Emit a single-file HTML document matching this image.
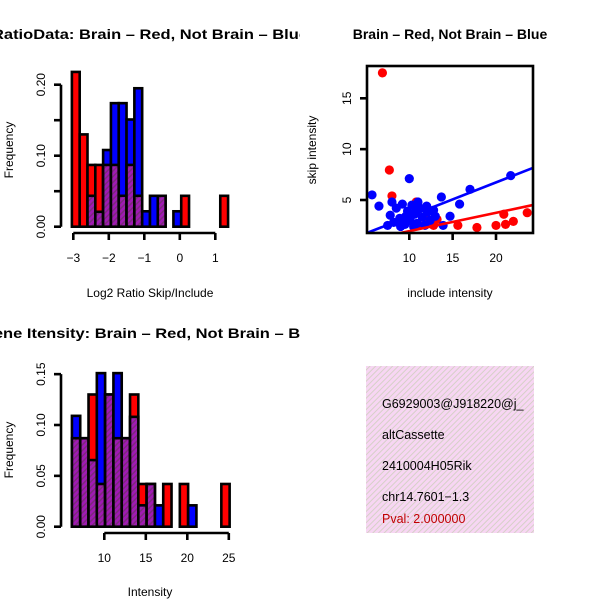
<!DOCTYPE html>
<html><head><meta charset="utf-8"><style>
html,body{margin:0;padding:0;background:#fff;}
svg{display:block;font-family:"Liberation Sans",Arial,sans-serif;}
</style></head><body>
<svg id="c" width="600" height="600" viewBox="0 0 600 600">
<defs>
<pattern id="hatch" width="4" height="4" patternUnits="userSpaceOnUse" patternTransform="rotate(45)">
<rect width="4" height="4" fill="#a01ab4"/><rect width="1.5" height="4" fill="#7c2a7c"/>
</pattern>
<pattern id="pinkhatch" width="4" height="4" patternUnits="userSpaceOnUse" patternTransform="rotate(45)">
<rect width="4" height="4" fill="#f7d6f3"/><rect width="1" height="4" fill="#d6d0c8"/>
</pattern>
<clipPath id="clipTL"><rect x="0" y="0" width="300" height="300"/></clipPath>
<clipPath id="clipBL"><rect x="0" y="300" width="300" height="300"/></clipPath>
<clipPath id="clipBox"><rect x="366" y="366" width="168" height="167"/></clipPath>
<clipPath id="clipSc"><rect x="367" y="66" width="166" height="167"/></clipPath>
</defs>
<g id="tl" clip-path="url(#clipTL)"></g>
<g id="tr"></g>
<g id="bl" clip-path="url(#clipBL)"></g>
<g id="br">
<rect x="366" y="366" width="168" height="167" fill="url(#pinkhatch)"/>
<g clip-path="url(#clipBox)" font-size="12.5">
<text x="382" y="408">G6929003@J918220@j_</text>
<text x="382" y="439">altCassette</text>
<text x="382" y="470">2410004H05Rik</text>
<text x="382" y="501">chr14.7601−1.3</text>
<text x="382" y="523" fill="#c00000">Pval: 2.000000</text>
</g>
</g>
</svg>
<script>
// ---- Ratio histogram data ----
const ratioBinStart = -3.04, ratioBinWidth = 0.22;
const ratioRed  = [0.218,0.13,0.087,0.087,0.087,0.087,0.0435,0.087,0.0435,0,0,0.0435,0,0,0.0435,0,0,0,0,0.0435];
const ratioBlue = [0,0,0.0435,0.021,0.108,0.174,0.174,0.151,0.195,0.0217,0.0435,0.0435,0,0.0217,0,0,0,0,0,0];
const ratioXTicks = [-3,-2,-1,0,1];
const ratioYTicks = [0,0.05,0.10,0.15,0.20];
const ratioYLabels = ["0.00","","0.10","","0.20"];
// ---- Intensity histogram data ----
const intBinStart = 6.1, intBinWidth = 1;
const intRed  = [0.087,0.087,0.13,0.042,0.13,0.087,0.087,0.13,0.042,0.042,0,0.042,0,0.042,0,0,0,0,0.042];
const intBlue = [0.109,0.087,0.0655,0.151,0.13,0.151,0.087,0.108,0.021,0.042,0.021,0,0,0,0.021,0,0,0,0];
const intXTicks = [10,15,20,25];
const intYTicks = [0,0.05,0.10,0.15];
const intYLabels = ["0.00","0.05","0.10","0.15"];
// ---- Scatter data ----
const redX = [6.9,7.7,8.0,10.8,15.6,17.8,20,20.9,21.1,22,23.6,12.8,13.2,8.9,12.0,11.0,9.5];
const redY = [17.5,7.95,5.4,4.8,2.5,2.3,2.5,3.6,2.6,2.9,3.75,2.5,3.1,2.7,3.0,2.6,3.2];
const blueX = [5.7,6.5,10,13.7,17,15.8,21.7,14.7,13.9,7.8,8.2,8.5,8.9,9.2,9.5,9.8,10.1,10.3,10.6,10.9,11.2,11.5,11.8,12.1,12.4,12.8,9.0,10.5,8.0,11.0,12.0,13.0,9.6,10.8,7.5];
const blueY = [5.5,4.4,7.1,5.3,6.05,4.6,7.4,3.4,2.5,3.5,2.8,4.2,3.2,4.6,2.6,3.9,3.0,4.5,3.6,2.7,4.2,3.3,2.5,3.8,3.0,4.0,2.4,2.4,4.8,4.8,4.4,3.4,3.4,3.9,2.5];
const redFit = [0.14,0.18];   // intercept, slope
const blueFit = [0.05,0.334];
const scXTicks = [10,15,20];
const scYTicks = [5,10,15];

const NS="http://www.w3.org/2000/svg";
function mk(parent,tag,attrs,txt){const e=document.createElementNS(NS,tag);for(const k in attrs)e.setAttribute(k,attrs[k]);if(txt!==undefined)e.textContent=txt;parent.appendChild(e);return e;}

function hist(g,o){
  const sx=v=>o.x0px+(v-o.xv0)*o.kx, sy=v=>o.y0px-v*o.ky;
  o.red.forEach((r,i)=>{
    const b=o.blue[i], l=sx(o.start+i*o.w), rr=sx(o.start+(i+1)*o.w);
    const mx=Math.max(r,b), mn=Math.min(r,b);
    if(mx<=0) return;
    const col = r>b ? "#ff0000" : "#0000ff";
    let e=mk(g,"rect",{x:l,y:sy(mx),width:rr-l,height:sy(0)-sy(mx),fill:col,stroke:"#000","stroke-width":2.6});
    
    
    if(mn>0){
      let p=mk(g,"rect",{x:l,y:sy(mn),width:rr-l,height:sy(0)-sy(mn),fill:"url(#hatch)",stroke:"#000","stroke-width":2.6});
      
      
    }
  });
  // axes
  const ax=mk(g,"g",{stroke:"#000","stroke-width":2.6,fill:"none"});
  
  
  mk(ax,"line",{x1:sx(o.xt[0]),x2:sx(o.xt[o.xt.length-1]),y1:o.axY,y2:o.axY});
  o.xt.forEach(t=>{mk(ax,"line",{x1:sx(t),x2:sx(t),y1:o.axY,y2:o.axY+7});
    let tx=mk(g,"text",{x:sx(t),y:o.axY+29,"text-anchor":"middle","font-size":12},String(t).replace('-','−'));
    
    });
  const ay=mk(g,"g",{stroke:"#000","stroke-width":2.6,fill:"none"});
  
  
  mk(ay,"line",{x1:o.axX,x2:o.axX,y1:sy(o.yt[0]),y2:sy(o.yt[o.yt.length-1])});
  o.yt.forEach((t,i)=>{mk(ay,"line",{x1:o.axX,x2:o.axX-7,y1:sy(t),y2:sy(t)});
    if(o.yl[i]){let tx=mk(g,"text",{x:0,y:0,"text-anchor":"middle","font-size":12,transform:`translate(${o.axX-16},${sy(t)}) rotate(-90)`},o.yl[i]);
    
    }});
}

const tl=document.getElementById('tl');
hist(tl,{red:ratioRed,blue:ratioBlue,start:ratioBinStart,w:ratioBinWidth,xv0:-3,x0px:73.3,kx:35.5,y0px:226.7,ky:710,xt:ratioXTicks,yt:ratioYTicks,yl:ratioYLabels,axY:233,axX:61});
mk(tl,"text",{x:-8,y:39,"font-size":14,"font-weight":"bold",textLength:316,lengthAdjust:"spacingAndGlyphs",},"RatioData: Brain – Red, Not Brain – Blue");
mk(tl,"text",{x:150,y:297,"font-size":12,"text-anchor":"middle",},"Log2 Ratio Skip/Include");
mk(tl,"text",{x:0,y:0,"font-size":12,"text-anchor":"middle",transform:"translate(13,150) rotate(-90)",},"Frequency");

const bl=document.getElementById('bl');
hist(bl,{red:intRed,blue:intBlue,start:intBinStart,w:intBinWidth,xv0:10,x0px:104.3,kx:8.3,y0px:526.7,ky:1017,xt:intXTicks,yt:intYTicks,yl:intYLabels,axY:533,axX:61});
mk(bl,"text",{x:-19,y:338,"font-size":14,"font-weight":"bold",textLength:343,lengthAdjust:"spacingAndGlyphs",},"Gene Itensity: Brain – Red, Not Brain – Blue");
mk(bl,"text",{x:150,y:596,"font-size":12,"text-anchor":"middle",},"Intensity");
mk(bl,"text",{x:0,y:0,"font-size":12,"text-anchor":"middle",transform:"translate(13,450) rotate(-90)",},"Frequency");

// scatter
const tr=document.getElementById('tr');
const scx=v=>409.3+(v-10)*8.67, scy=v=>200-(v-5)*10.17;
const pg=mk(tr,"g",{"clip-path":"url(#clipSc)"});
redX.forEach((x,i)=>{let c=mk(pg,"circle",{cx:scx(x),cy:scy(redY[i]),r:4.6,fill:"#ff0000"});
  
  });
blueX.forEach((x,i)=>{let c=mk(pg,"circle",{cx:scx(x),cy:scy(blueY[i]),r:4.6,fill:"#0000ff"});
  
  });
[[redFit,"#ff0000","fit-line-red"],[blueFit,"#0000ff","fit-line-blue"]].forEach(([f,c,n])=>{
  const x1=4,x2=26;
  let l=mk(pg,"line",{x1:scx(x1),y1:scy(f[0]+f[1]*x1),x2:scx(x2),y2:scy(f[0]+f[1]*x2),stroke:c,"stroke-width":2.6});
  
  
});
mk(tr,"rect",{x:367,y:66,width:166,height:167,fill:"none",stroke:"#000","stroke-width":2.6,});
scXTicks.forEach(t=>{mk(tr,"line",{x1:scx(t),x2:scx(t),y1:233,y2:240,stroke:"#000","stroke-width":2.6});
  let tx=mk(tr,"text",{x:scx(t),y:262,"text-anchor":"middle","font-size":12},String(t));
  
  });
scYTicks.forEach(t=>{mk(tr,"line",{x1:367,x2:360,y1:scy(t),y2:scy(t),stroke:"#000","stroke-width":2.6});
  let tx=mk(tr,"text",{x:0,y:0,"text-anchor":"middle","font-size":12,transform:`translate(351,${scy(t)}) rotate(-90)`},String(t));
  
  });
mk(tr,"text",{x:450,y:39,"font-size":14,"font-weight":"bold","text-anchor":"middle",},"Brain – Red, Not Brain – Blue");
mk(tr,"text",{x:450,y:297,"font-size":12,"text-anchor":"middle",},"include intensity");
mk(tr,"text",{x:0,y:0,"font-size":12,"text-anchor":"middle",transform:"translate(316,150) rotate(-90)",},"skip intensity");
</script>
</body></html>
